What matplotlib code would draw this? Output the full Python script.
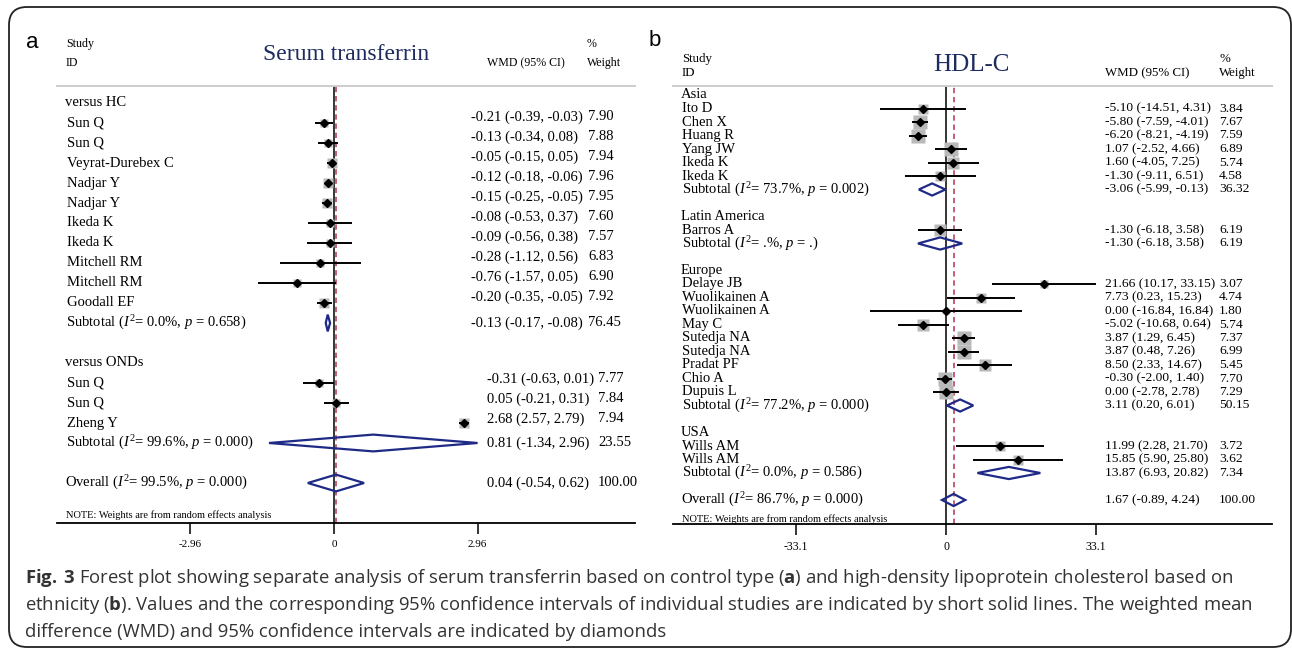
import matplotlib
matplotlib.use("Agg")
import matplotlib.pyplot as plt
from matplotlib.patches import Polygon, FancyBboxPatch
from matplotlib.transforms import blended_transform_factory

plt.rcParams['font.family'] = ['Liberation Serif', 'DejaVu Serif']
plt.rcParams['mathtext.fontset'] = 'custom'
plt.rcParams['mathtext.rm'] = 'Liberation Serif'
plt.rcParams['mathtext.it'] = 'Liberation Serif:italic'
plt.rcParams['mathtext.bf'] = 'Open Sans:bold'

# ---- panel a: serum transferrin by control type ----
groups_a = ["versus HC", "versus ONDs"]
studies_a = [["Sun Q", "Sun Q", "Veyrat-Durebex C", "Nadjar Y", "Nadjar Y",
              "Ikeda K", "Ikeda K", "Mitchell RM", "Mitchell RM", "Goodall EF"],
             ["Sun Q", "Sun Q", "Zheng Y"]]
wmd_a = [[-0.21, -0.13, -0.05, -0.12, -0.15, -0.08, -0.09, -0.28, -0.76, -0.20],
         [-0.31, 0.05, 2.68]]
lo_a = [[-0.39, -0.34, -0.15, -0.18, -0.25, -0.53, -0.56, -1.12, -1.57, -0.35],
        [-0.63, -0.21, 2.57]]
hi_a = [[-0.03, 0.08, 0.05, -0.06, -0.05, 0.37, 0.38, 0.56, 0.05, -0.05],
        [0.01, 0.31, 2.79]]
weight_a = [[7.90, 7.88, 7.94, 7.96, 7.95, 7.60, 7.57, 6.83, 6.90, 7.92],
            [7.77, 7.84, 7.94]]
sub_wmd_a = [-0.13, 0.81]
sub_lo_a = [-0.17, -1.34]
sub_hi_a = [-0.08, 2.96]
sub_weight_a = [76.45, 23.55]
sub_i2_a = ["0.0", "99.6"]
sub_p_a = ["0.658", "0.000"]
overall_a = [0.04, -0.54, 0.62, 100.00]
overall_stats_a = ["99.5", "0.000"]
ticks_a = [-2.96, 0, 2.96]
tick_labels_a = ["-2.96", "0", "2.96"]

# ---- panel b: HDL-C by ethnicity ----
groups_b = ["Asia", "Latin America", "Europe", "USA"]
studies_b = [["Ito D", "Chen X", "Huang R", "Yang JW", "Ikeda K", "Ikeda K"],
             ["Barros A"],
             ["Delaye JB", "Wuolikainen A", "Wuolikainen A", "May C", "Sutedja NA",
              "Sutedja NA", "Pradat PF", "Chio A", "Dupuis L"],
             ["Wills AM", "Wills AM"]]
wmd_b = [[-5.10, -5.80, -6.20, 1.07, 1.60, -1.30],
         [-1.30],
         [21.66, 7.73, 0.00, -5.02, 3.87, 3.87, 8.50, -0.30, 0.00],
         [11.99, 15.85]]
lo_b = [[-14.51, -7.59, -8.21, -2.52, -4.05, -9.11],
        [-6.18],
        [10.17, 0.23, -16.84, -10.68, 1.29, 0.48, 2.33, -2.00, -2.78],
        [2.28, 5.90]]
hi_b = [[4.31, -4.01, -4.19, 4.66, 7.25, 6.51],
        [3.58],
        [33.15, 15.23, 16.84, 0.64, 6.45, 7.26, 14.67, 1.40, 2.78],
        [21.70, 25.80]]
weight_b = [[3.84, 7.67, 7.59, 6.89, 5.74, 4.58],
            [6.19],
            [3.07, 4.74, 1.80, 5.74, 7.37, 6.99, 5.45, 7.70, 7.29],
            [3.72, 3.62]]
sub_wmd_b = [-3.06, -1.30, 3.11, 13.87]
sub_lo_b = [-5.99, -6.18, 0.20, 6.93]
sub_hi_b = [-0.13, 3.58, 6.01, 20.82]
sub_weight_b = [36.32, 6.19, 50.15, 7.34]
sub_i2_b = ["73.7", ".", "77.2", "0.0"]
sub_p_b = ["0.002", ".", "0.000", "0.586"]
overall_b = [1.67, -0.89, 4.24, 100.00]
overall_stats_b = ["86.7", "0.000"]
ticks_b = [-33.1, 0, 33.1]
tick_labels_b = ["-33.1", "0", "33.1"]

W, H = 1292, 649
fig = plt.figure(figsize=(W / 100, H / 100), dpi=100)

NAVY = '#1f2a86'
TITLE = '#1d2b5e'


def fx(px):
    return px / W


def fy(py):
    return 1 - py / H


def fmt(e, l, h):
    return f"{e:.2f} ({l:.2f}, {h:.2f})"


def diamond(ax, e, l, h, y, hh):
    pts = [(l, y), (e, y - hh), (h, y), (e, y + hh)]
    ax.add_patch(Polygon(pts, closed=True, fill=False, edgecolor=NAVY, lw=1.6,
                         clip_on=False, zorder=4))


def draw_panel(ax, lay, groups, studies, wmd, lo, hi, wt,
               s_wmd, s_lo, s_hi, s_wt, s_i2, s_p, overall, o_stats,
               ticks, tick_labels):
    tr = blended_transform_factory(fig.transFigure, ax.transData)
    fs = lay['fs']
    vfs = lay['val_fs']
    row = 0
    for g in range(len(groups)):
        vx = lay['val_x'][g]
        wx = lay['wt_x'][g]
        off = lay['val_off'][g]
        ax.text(fx(lay['name_x'] - 1), row, groups[g], transform=tr,
                fontsize=fs, va='center')
        row += 1
        for k in range(len(studies[g])):
            ax.text(fx(lay['name_x'] + lay['indent']), row, studies[g][k], transform=tr,
                    fontsize=fs, va='center')
            side = lay['box_k'] * wt[g][k] ** 0.5
            ax.plot([lo[g][k], hi[g][k]], [row, row], color='black', lw=1.4,
                    solid_capstyle='butt', zorder=3, clip_on=False)
            ax.plot(wmd[g][k], row, 's', ms=side * 0.72, color='#b9b9b9',
                    mec='none', zorder=2, clip_on=False)
            ax.plot(wmd[g][k], row, 'D', ms=lay['dot'], color='black', zorder=4,
                    clip_on=False)
            ax.text(fx(vx), row + off, fmt(wmd[g][k], lo[g][k], hi[g][k]),
                    transform=tr, fontsize=vfs, va='center')
            ax.text(fx(wx), row + off, f"{wt[g][k]:.2f}", transform=tr,
                    fontsize=vfs, va='center')
            row += 1
        diamond(ax, s_wmd[g], s_lo[g], s_hi[g], row, lay['dia_h'])
        ax.text(fx(lay['name_x']), row,
                f"Subtotal ($I^2$= {s_i2[g]}%, $p$ = {s_p[g]})", transform=tr,
                fontsize=fs, va='center')
        ax.text(fx(vx), row, fmt(s_wmd[g], s_lo[g], s_hi[g]), transform=tr,
                fontsize=vfs, va='center')
        ax.text(fx(wx), row, f"{s_wt[g]:.2f}", transform=tr, fontsize=vfs,
                va='center')
        row += 2
    diamond(ax, overall[0], overall[1], overall[2], row, lay['dia_h'])
    ax.text(fx(lay['name_x'] - 1), row,
            f"Overall ($I^2$= {o_stats[0]}%, $p$ = {o_stats[1]})", transform=tr,
            fontsize=fs, va='center')
    ax.text(fx(lay['val_x'][-1]), row, fmt(*overall[:3]), transform=tr,
            fontsize=vfs, va='center')
    ax.text(fx(lay['wt_x'][-1]), row, f"{overall[3]:.2f}", transform=tr,
            fontsize=vfs, va='center')
    ax.text(fx(lay['name_x']), lay['note_row'],
            "NOTE: Weights are from random effects analysis", transform=tr,
            fontsize=lay['note_fs'], va='center')

    ax.axvline(0, color='black', lw=1.1, zorder=1)
    ax.axvline(overall[0], color='#b3344c', lw=1.1, ls=(0, (3.5, 2.5)), zorder=1)
    ax.set_xticks(ticks)
    ax.set_xticklabels(tick_labels)
    ax.tick_params(axis='x', length=8, width=1.1, pad=4, labelsize=lay['tick_fs'])
    ax.set_yticks([])
    ax.spines['left'].set_visible(False)
    ax.spines['right'].set_visible(False)
    ax.spines['top'].set_color('#cdcdcd')
    ax.spines['top'].set_linewidth(1.4)
    ax.spines['bottom'].set_linewidth(1.3)
    ax.patch.set_alpha(0)


# panel a layout (pixels)
ax_a = fig.add_axes([fx(57), fy(523), fx(635) - fx(57), fy(86) - fy(523)])
ax_a.set_xlim((57 - 334) / 48.5, (635 - 334) / 48.5)
ax_a.set_ylim((523 - 103) / 20, (86 - 103) / 20)
lay_a = dict(fs=10.5, val_fs=10.5, name_x=66, indent=1, val_x=[471, 487],
             wt_x=[588, 598], val_off=[-0.3, -0.2], box_k=3.2, dot=4, dia_h=0.42,
             note_row=20.6, note_fs=7.5, tick_fs=8)
draw_panel(ax_a, lay_a, groups_a, studies_a, wmd_a, lo_a, hi_a, weight_a,
           sub_wmd_a, sub_lo_a, sub_hi_a, sub_weight_a, sub_i2_a, sub_p_a,
           overall_a, overall_stats_a, ticks_a, tick_labels_a)

# panel b layout (pixels)
ax_b = fig.add_axes([fx(673), fy(524), fx(1272) - fx(673), fy(86) - fy(524)])
ax_b.set_xlim((673 - 946) / 4.532, (1272 - 946) / 4.532)
ax_b.set_ylim((524 - 95) / 13.5, (86 - 95) / 13.5)
lay_b = dict(fs=10.5, val_fs=9.7, name_x=682, indent=0, val_x=[1105] * 4,
             wt_x=[1219] * 4, val_off=[0, 0, 0, 0], box_k=5.0, dot=3.6, dia_h=0.45,
             note_row=31.45, note_fs=7.5, tick_fs=8.5)
draw_panel(ax_b, lay_b, groups_b, studies_b, wmd_b, lo_b, hi_b, weight_b,
           sub_wmd_b, sub_lo_b, sub_hi_b, sub_weight_b, sub_i2_b, sub_p_b,
           overall_b, overall_stats_b, ticks_b, tick_labels_b)

# headers
fig.text(fx(32), fy(42), "a", fontsize=16, family='Liberation Sans', ha='center', va='center')
fig.text(fx(655), fy(40), "b", fontsize=16, family='Liberation Sans', ha='center', va='center')

fig.text(fx(346), fy(60), "Serum transferrin", fontsize=17, color=TITLE,
         ha='center', va='baseline')
fig.text(fx(66), fy(47), "Study", fontsize=8.6, va='baseline')
fig.text(fx(66), fy(66), "ID", fontsize=8.6, va='baseline')
fig.text(fx(487), fy(66), "WMD (95% CI)", fontsize=8.6, va='baseline')
fig.text(fx(587), fy(47), "%", fontsize=8.6, va='baseline')
fig.text(fx(587), fy(66), "Weight", fontsize=8.6, va='baseline')

fig.text(fx(971), fy(71), "HDL-C", fontsize=18, color=TITLE, ha='center', va='baseline')
fig.text(fx(682), fy(62), "Study", fontsize=9.3, va='baseline')
fig.text(fx(682), fy(76), "ID", fontsize=9.3, va='baseline')
fig.text(fx(1105), fy(76), "WMD (95% CI)", fontsize=9.3, va='baseline')
fig.text(fx(1219), fy(62), "%", fontsize=9.3, va='baseline')
fig.text(fx(1219), fy(76), "Weight", fontsize=9.3, va='baseline')

# caption
caption = [
    r"$\mathbf{Fig.\ 3}$ Forest plot showing separate analysis of serum transferrin based on control type ($\mathbf{a}$) and high-density lipoprotein cholesterol based on",
    r"ethnicity ($\mathbf{b}$). Values and the corresponding 95% confidence intervals of individual studies are indicated by short solid lines. The weighted mean",
    "difference (WMD) and 95% confidence intervals are indicated by diamonds",
]
for i, line in enumerate(caption):
    fig.text(fx(25), fy(578 + 27 * i), line, fontsize=13.3, family='Open Sans',
             color='#333333', va='center')

# outer rounded frame
fig.patches.append(FancyBboxPatch((0.09, 0.02), 12.82, 6.40,
                                  boxstyle="round,pad=0,rounding_size=0.18",
                                  transform=fig.dpi_scale_trans, fill=False,
                                  edgecolor='#222222', lw=1.3))

fig.savefig("out.png", dpi=100)
